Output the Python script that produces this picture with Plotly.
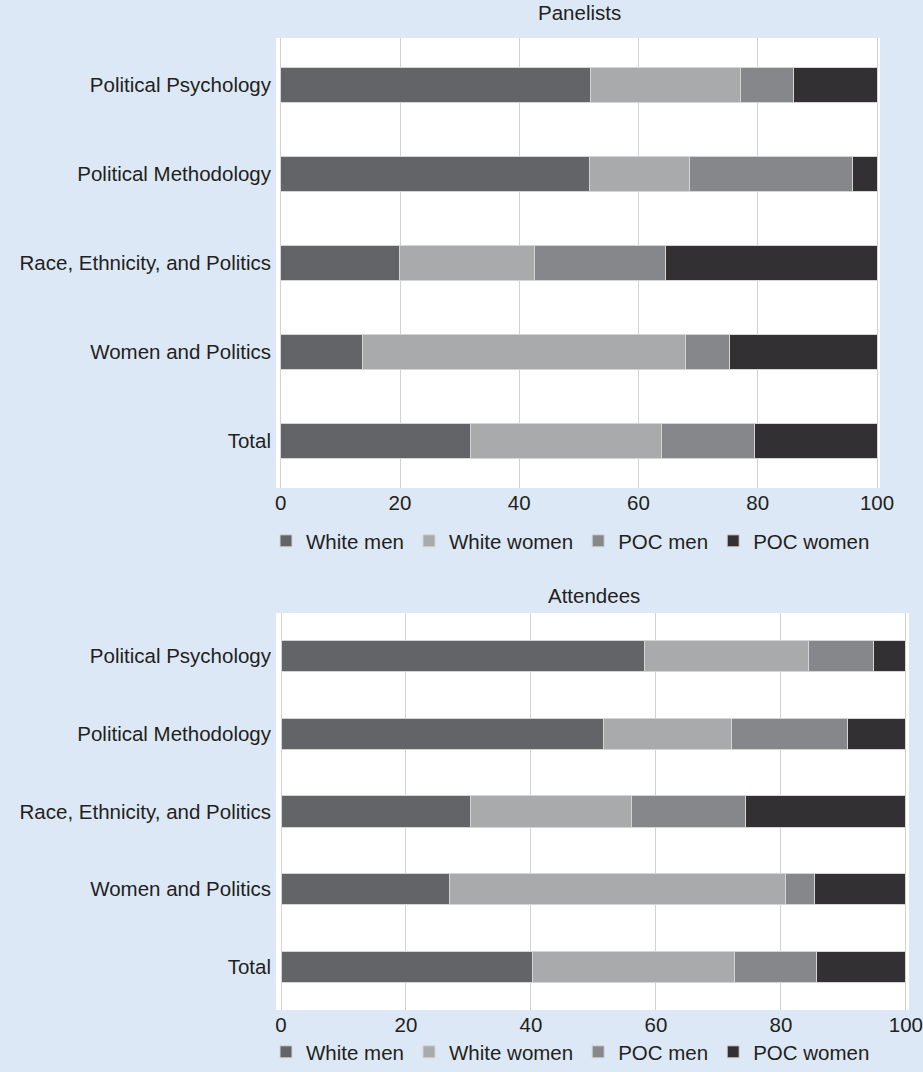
import plotly.graph_objects as go

categories = ["Political Psychology", "Political Methodology", "Race, Ethnicity, and Politics",
              "Women and Politics", "Total"]
series_names = ["White men", "White women", "POC men", "POC women"]
colors = ["#636467", "#a9aaac", "#86878a", "#323032"]

panelists_white_men = [51.9, 51.7, 19.9, 13.7, 31.9]
panelists_white_women = [25.2, 16.8, 22.6, 54.2, 32.0]
panelists_poc_men = [8.9, 27.4, 22.1, 7.3, 15.6]
panelists_poc_women = [14.0, 4.1, 35.4, 24.8, 20.5]

attendees_white_men = [58.2, 51.6, 30.4, 27.0, 40.2]
attendees_white_women = [26.2, 20.5, 25.7, 53.7, 32.4]
attendees_poc_men = [10.4, 18.6, 18.2, 4.7, 13.1]
attendees_poc_women = [5.2, 9.3, 25.7, 14.6, 14.3]

tick_values = [0, 20, 40, 60, 80, 100]

W, H = 923, 1072
FONT = "Liberation Sans, Arial, Helvetica, sans-serif"
TXT = "#231f20"
FS = 20.5

panel_data = [
    [panelists_white_men, panelists_white_women, panelists_poc_men, panelists_poc_women],
    [attendees_white_men, attendees_white_women, attendees_poc_men, attendees_poc_women],
]

fig = go.Figure()
for p, data in enumerate(panel_data):
    xa = "x" if p == 0 else "x2"
    ya = "y" if p == 0 else "y2"
    lg = "legend" if p == 0 else "legend2"
    for name, vals, col in zip(series_names, data, colors):
        fig.add_trace(go.Bar(
            y=categories, x=vals, orientation="h", name=name,
            marker=dict(color=col, line=dict(color="#d4d4d4", width=1)),
            width=0.4, xaxis=xa, yaxis=ya, legend=lg, showlegend=True,
            hoverinfo="x+y+name",
        ))

def px_x(v):
    return v / W

def px_y(v):
    return 1 - v / H

axis_x = dict(range=[-0.8, 100.5], tickvals=tick_values, showgrid=True, gridcolor="#d2d2d2",
              gridwidth=1, zeroline=False, showline=False, ticks="", automargin=False,
              tickfont=dict(size=FS, color=TXT, family=FONT), fixedrange=True)
axis_y = dict(showgrid=False, zeroline=False, showline=False, ticks="", automargin=False,
              tickfont=dict(size=FS, color=TXT, family=FONT), ticklabelstandoff=4)

fig.update_layout(
    width=W, height=H, autosize=False,
    margin=dict(l=0, r=0, t=0, b=0, pad=0),
    paper_bgcolor="#dde8f6", plot_bgcolor="#ffffff",
    barmode="stack",
    font=dict(family=FONT, size=FS, color=TXT),
    xaxis=dict(axis_x, domain=[px_x(276), px_x(880)], anchor="y"),
    yaxis=dict(axis_y, domain=[px_y(488), px_y(38)], anchor="x", range=[4.528, -0.528]),
    xaxis2=dict(axis_x, domain=[px_x(276), px_x(909)], anchor="y2"),
    yaxis2=dict(axis_y, domain=[px_y(1010), px_y(613)], anchor="x2", range=[4.553, -0.553]),
    legend=dict(orientation="h", x=px_x(266), xanchor="left", y=px_y(541), yanchor="middle",
                font=dict(size=FS, color=TXT, family=FONT), bgcolor="rgba(0,0,0,0)",
                traceorder="normal", itemclick=False, itemdoubleclick=False),
    legend2=dict(orientation="h", x=px_x(266), xanchor="left", y=0, yanchor="bottom",
                 font=dict(size=FS, color=TXT, family=FONT), bgcolor="rgba(0,0,0,0)",
                 traceorder="normal", itemclick=False, itemdoubleclick=False),
    annotations=[
        dict(text="Panelists", x=px_x(579), y=px_y(13), xref="paper", yref="paper",
             showarrow=False, font=dict(size=FS, color=TXT, family=FONT), yanchor="middle"),
        dict(text="Attendees", x=px_x(593.5), y=px_y(595), xref="paper", yref="paper",
             showarrow=False, font=dict(size=FS, color=TXT, family=FONT), yanchor="middle"),
    ],
    showlegend=True,
)

fig.write_html(
    "out.html",
    config={"displayModeBar": False},
    post_script=(
        "document.documentElement.style.margin='0';"
        "document.documentElement.style.overflow='hidden';"
        "document.body.style.margin='0';"
        "document.body.style.overflow='hidden';"
    ),
)
